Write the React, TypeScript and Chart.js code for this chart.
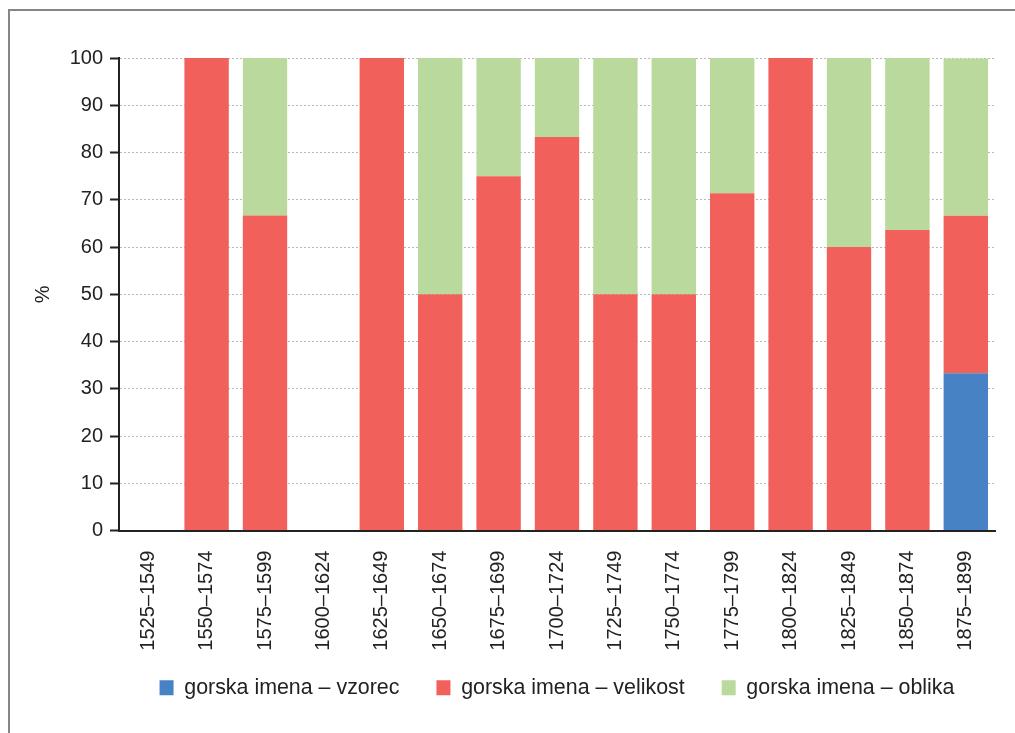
import React, { useEffect, useRef } from "react";
import { Chart, registerables } from "chart.js";

Chart.register(...registerables);

const categories = [
  "1525–1549", "1550–1574", "1575–1599", "1600–1624", "1625–1649",
  "1650–1674", "1675–1699", "1700–1724", "1725–1749", "1750–1774",
  "1775–1799", "1800–1824", "1825–1849", "1850–1874", "1875–1899",
];

const vzorec = [0, 0, 0, 0, 0, 0, 0, 0, 0, 0, 0, 0, 0, 0, 33.3];
const velikost = [0, 100, 66.7, 0, 100, 50, 75, 83.3, 50, 50, 71.4, 100, 60, 63.6, 33.3];
const oblika = [0, 0, 33.3, 0, 0, 50, 25, 16.7, 50, 50, 28.6, 0, 40, 36.4, 33.3];

const seriesNames = ["gorska imena – vzorec", "gorska imena – velikost", "gorska imena – oblika"];
const seriesColors = ["#4782c4", "#f1605a", "#b9da9c"];

const yTicks = [0, 10, 20, 30, 40, 50, 60, 70, 80, 90, 100];

const FONT = "'Liberation Sans', Arial, sans-serif";

const legendShift = {
  id: "legendShift",
  afterLayout(chart: any) {
    const lg = chart.legend;
    if (!lg) return;
    const h = lg.height;
    lg.top = 640;
    lg.bottom = 640 + h;
  },
};

export default function App() {
  const ref = useRef<HTMLCanvasElement>(null);

  useEffect(() => {
    if (!ref.current) return;
    const chart = new Chart(ref.current, {
      type: "bar",
      data: {
        labels: categories,
        datasets: [vzorec, velikost, oblika].map((d, i) => ({
          label: seriesNames[i],
          data: d,
          backgroundColor: seriesColors[i],
          borderWidth: 0,
          categoryPercentage: 1,
          barPercentage: 0.76,
        })),
      },
      plugins: [legendShift],
      options: {
        responsive: false,
        animation: false,
        layout: { padding: { left: 0, top: 58, right: 20, bottom: 9 } },
        plugins: {
          tooltip: { enabled: false },
          legend: {
            position: "bottom",
            fullSize: false,
            labels: {
              boxWidth: 14,
              boxHeight: 15,
              padding: 37,
              color: "#222",
              font: { family: FONT, size: 21.4 },
            },
          },
        },
        scales: {
          x: {
            stacked: true,
            grid: { display: false, drawTicks: false },
            border: { display: true, color: "#222", width: 2 },
            ticks: {
              color: "#222",
              font: { family: FONT, size: 20 },
              minRotation: 90,
              maxRotation: 90,
              padding: 20,
              autoSkip: false,
            },
            afterFit: (s: any) => { s.height = 125; },
          },
          y: {
            stacked: true,
            min: 0,
            max: 100,
            afterBuildTicks: (s: any) => { s.ticks = yTicks.map((v) => ({ value: v })); },
            grid: {
              color: "#b8b8b8",
              lineWidth: 1,
              tickColor: "#222",
              tickLength: 9,
              tickWidth: 2,
              tickBorderDash: [],
            },
            border: { display: true, color: "#222", width: 2, dash: [2, 2] },
            ticks: {
              color: "#222",
              font: { family: FONT, size: 20 },
              padding: 7,
            },
            title: {
              display: true,
              text: "%",
              color: "#222",
              font: { family: FONT, size: 20 },
              padding: { top: 31, bottom: 0 },
            },
            afterFit: (s: any) => { s.width = 119; },
          },
        },
      },
    });
    return () => chart.destroy();
  }, []);

  return (
    <div style={{ position: "fixed", left: 0, top: 0, width: 1015, height: 733, overflow: "hidden", background: "#fff" }}>
      <div style={{ position: "absolute", left: 8, top: 9, width: 1100, height: 800, border: "2px solid #868686" }} />
      <canvas ref={ref} width={1015} height={733} style={{ position: "absolute", left: 0, top: 0 }} />
    </div>
  );
}
